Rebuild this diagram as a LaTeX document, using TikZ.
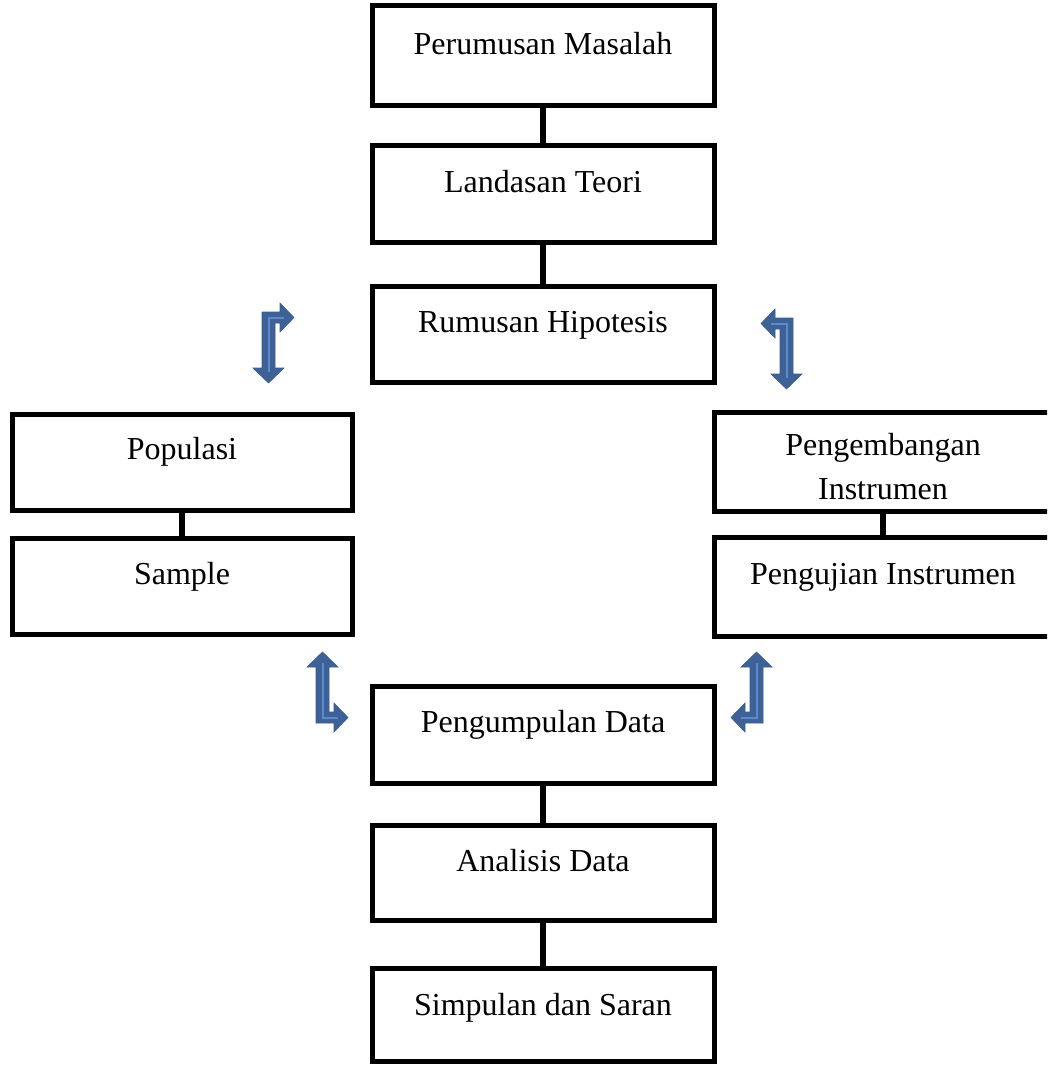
\documentclass[tikz,border=0pt]{standalone}
\usepackage{fontspec}
\setmainfont{Liberation Serif}
\definecolor{arrfill}{RGB}{62,98,152}
\definecolor{arrline}{RGB}{58,92,144}
\definecolor{arrhi}{RGB}{92,136,204}
\tikzset{
  box/.style={draw=black, line width=5pt, rectangle, inner sep=0pt, fill=white},
  lbl/.style={anchor=base, inner sep=0pt, font=\fontsize{32}{44}\selectfont, align=center},
  conn/.style={draw=black, line width=5.5pt},
  bentarrow/.style={fill=arrfill, draw=arrline, line width=0.6pt, line join=miter},
  arrhilite/.style={draw=arrhi, line width=2pt}
}
\newcommand{\bentarr}{%
  \path[bentarrow] (0,0) -- (18,0) -- (18,-9) -- (32,5.5) -- (18,20) -- (18,11) -- (13,11)
     -- (13,56) -- (22,56) -- (6.5,71) -- (-9,56) -- (0,56) -- cycle;
  \draw[arrhilite] (6.5,60) -- (6.5,5.5) -- (22,5.5);
}
\begin{document}
\begin{tikzpicture}[x=1pt,y=-1pt]
\useasboundingbox (0,0) rectangle (1047,1065);
\clip (0,0) rectangle (1047,1065);

% main column
\node[box, minimum width=342pt, minimum height=99pt] (pm) at (543,55.5) {};
\node[box, minimum width=342pt, minimum height=97pt] (lt) at (543,194) {};
\node[box, minimum width=342pt, minimum height=96pt] (rh) at (543,334.5) {};
\node[box, minimum width=342pt, minimum height=97pt] (pd) at (543,734.5) {};
\node[box, minimum width=342pt, minimum height=95pt] (ad) at (543,872.5) {};
\node[box, minimum width=342pt, minimum height=93pt] (ss) at (543,1014.5) {};
% left column
\node[box, minimum width=340pt, minimum height=96pt] (pop) at (182,462) {};
\node[box, minimum width=340pt, minimum height=96pt] (sam) at (182,586) {};
% right column
\node[box, minimum width=342pt, minimum height=99pt] (peng) at (885,462) {};
\node[box, minimum width=342pt, minimum height=99pt] (pi) at (885,587) {};

% connectors
\draw[conn] (pm.south) -- (lt.north);
\draw[conn] (lt.south) -- (rh.north);
\draw[conn] (pd.south) -- (ad.north);
\draw[conn] (ad.south) -- (ss.north);
\draw[conn] (pop.south) -- (sam.north);
\draw[conn] ([xshift=-2pt]peng.south) -- ([xshift=-2pt]pi.north);

% labels
\node[lbl] (tpm) at ([yshift=-51pt]pm.north) {Perumusan Masalah};
\node[lbl] (tlt) at ([yshift=-49pt]lt.north) {Landasan Teori};
\node[lbl] (trh) at ([yshift=-48pt]rh.north) {Rumusan Hipotesis};
\node[lbl] (tpop) at ([yshift=-48pt]pop.north) {Populasi};
\node[lbl] (tsam) at ([yshift=-49pt]sam.north) {Sample};
\node[lbl] (tpeng1) at ([yshift=-45pt,xshift=-2pt]peng.north) {Pengembangan};
\node[lbl] (tpeng2) at ([yshift=-89pt,xshift=-2pt]peng.north) {Instrumen};
\node[lbl] (tpi) at ([yshift=-49pt,xshift=-2pt]pi.north) {Pengujian Instrumen};
\node[lbl] (tpd) at ([yshift=-49pt]pd.north) {Pengumpulan Data};
\node[lbl] (tad) at ([yshift=-49pt]ad.north) {Analisis Data};
\node[lbl] (tss) at ([yshift=-50pt]ss.north) {Simpulan dan Saran};

% bent arrows
\begin{scope}[shift={(262,312)}]\bentarr\end{scope}
\begin{scope}[shift={(793,318)}, xscale=-1]\bentarr\end{scope}
\begin{scope}[shift={(316,723)}, yscale=-1]\bentarr\end{scope}
\begin{scope}[shift={(763,723)}, xscale=-1, yscale=-1]\bentarr\end{scope}
\end{tikzpicture}
\end{document}
